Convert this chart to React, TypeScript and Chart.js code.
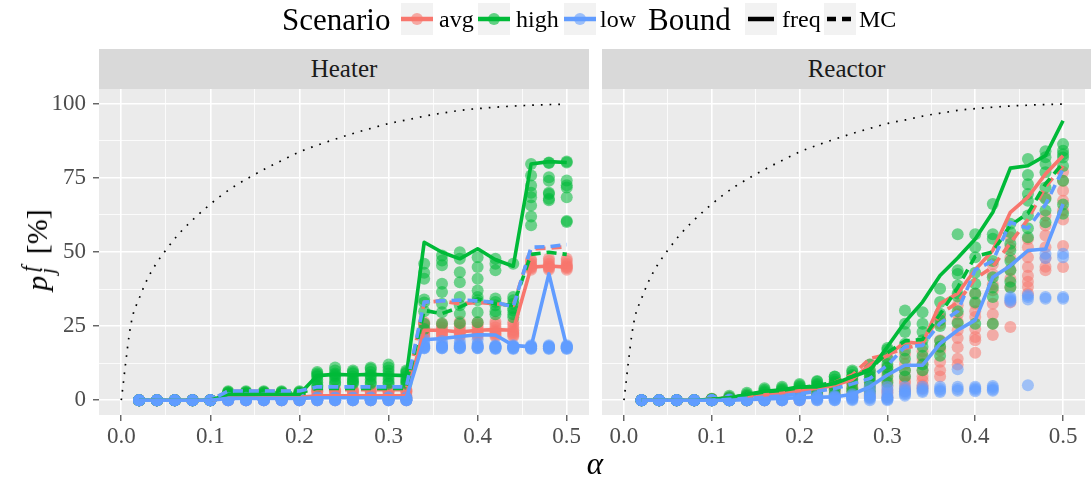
import React, { useEffect, useRef } from "react";
import { Chart, registerables } from "chart.js";

Chart.register(...registerables);

const SERIF = "'Liberation Serif', 'Times New Roman', serif";

const alphas = [0.02, 0.04, 0.06, 0.08, 0.1, 0.12, 0.14, 0.16, 0.18, 0.2, 0.22, 0.24, 0.26, 0.28, 0.3, 0.32, 0.34, 0.36, 0.38, 0.4, 0.42, 0.44, 0.46, 0.48, 0.5];

const xTickValues = [0, 0.05, 0.1, 0.15, 0.2, 0.25, 0.3, 0.35, 0.4, 0.45, 0.5];
const xTickLabels = ["0.0", "", "0.1", "", "0.2", "", "0.3", "", "0.4", "", "0.5"];
const yTickValues = [0, 12.5, 25, 37.5, 50, 62.5, 75, 87.5, 100];
const yTickLabels = ["0", "", "25", "", "50", "", "75", "", "100"];

const panelNames = ["Heater", "Reactor"];
const scenarioNames = ["avg", "high", "low"];
const boundNames = ["freq", "MC"];

// dotted reference curve
const curveAlpha = [0, 0.002, 0.005, 0.009, 0.0127, 0.0199, 0.0281, 0.0382, 0.0502, 0.0637, 0.0779, 0.0936, 0.1093, 0.1266, 0.1446, 0.1629, 0.1817, 0.2003, 0.2206, 0.2404, 0.2603, 0.2801, 0.3008, 0.321, 0.343, 0.3635, 0.3835, 0.405, 0.427, 0.45, 0.475, 0.5];
const curveValue = [0, 5, 12.8, 22.2, 28.3, 34.2, 40.1, 45.6, 50.7, 55.8, 60.2, 64.5, 68.4, 72.1, 75.3, 78.3, 81.1, 83.8, 86.1, 88.1, 90, 91.7, 93.4, 94.6, 96, 97, 97.9, 98.5, 99, 99.4, 99.7, 99.9];

// Heater lines
const heaterFreqAvg = [0, 0, 0, 0, 0, 1, 1, 1, 1, 1, 1.5, 1.5, 1.5, 1.5, 1.5, 1.5, 23.6, 23.6, 23, 23.6, 23.8, 23.6, 44.9, 45.3, 44.9];
const heaterFreqHigh = [0, 0, 0, 0, 0, 1.9, 1.9, 2, 2, 2, 8.3, 8.7, 8.5, 8.7, 8.5, 8.3, 53.3, 49.9, 47.7, 51.1, 47.4, 45.2, 79.7, 80.5, 80.2];
const heaterFreqLow = [0, 0, 0, 0, 0, 0.6, 0.6, 0.6, 0.6, 0.6, 0.8, 0.8, 0.8, 0.8, 0.8, 0.8, 20.4, 20.8, 21.5, 22.1, 22, 18.5, 18, 42.6, 18];
const heaterMCAvg = [0, 0, 0, 0, 0, 3, 3, 3, 3, 3, 3.5, 3.5, 3.5, 3.5, 3.5, 3.5, 33, 33.5, 32.5, 33, 32.5, 32, 51.1, 51.3, 51.8];
const heaterMCHigh = [0, 0, 0, 0, 0, 2.5, 2.5, 2.5, 2.5, 2.5, 4, 4, 4, 4, 4, 4, 30.3, 29.2, 31.4, 34.2, 32.5, 32, 49.2, 49.9, 49.2];
const heaterMCLow = [0, 0, 0, 0, 0, 3.1, 3.1, 3.1, 3.1, 3.1, 4.5, 4.5, 4.5, 4.5, 4.5, 4.5, 33.1, 33.5, 33.8, 33.5, 33, 31.5, 51.6, 51.8, 52.5];

// Reactor lines
const reactorFreqAvg = [0, 0, 0, 0, 0.3, 0.8, 1.3, 1.8, 2.5, 3.2, 4, 5, 7, 12, 15, 19.6, 19.1, 32.6, 36, 44, 50.5, 63.4, 68.5, 76.3, 82.5];
const reactorFreqHigh = [0, 0, 0, 0, 0.3, 0.8, 1.9, 3, 3.5, 4.5, 4.5, 5.6, 7.9, 10, 18, 26.4, 33.1, 42.1, 48, 54.4, 63.4, 78.3, 79.1, 82.5, 94.3];
const reactorFreqLow = [0, 0, 0, 0, 0, 0, 0.2, 0.4, 0.6, 0.8, 1, 1.1, 2, 4.5, 8.5, 11.8, 11.8, 19.1, 23.6, 27, 41.5, 45.4, 50.5, 51, 66.2];
const reactorMCAvg = [0, 0, 0, 0, 0.3, 0.8, 1.5, 2.2, 3, 3.8, 4.5, 6, 8.5, 14, 15.5, 17.5, 19, 29, 33, 41, 45, 53, 61, 72, 79];
const reactorMCHigh = [0, 0, 0, 0, 0.3, 0.8, 1.8, 2.8, 3.3, 4.2, 5, 6, 8, 10.5, 16, 20, 20.5, 29, 38, 48.5, 50, 59, 63, 73, 80];
const reactorMCLow = [0, 0, 0, 0, 0, 0.3, 0.6, 1, 1.5, 2.2, 3, 3.9, 5.5, 7.3, 11.8, 18, 18.5, 26, 30, 44, 47, 60, 58, 66, 78];

// Heater points (one list per alpha)
const heaterPtsAvg = [
  [0, 0, 0, 0, 0, 0, 0, 0], [0, 0, 0, 0, 0, 0, 0, 0], [0, 0, 0, 0, 0, 0, 0, 0], [0, 0, 0, 0, 0, 0, 0, 0], [0, 0, 0, 0, 0, 0, 0, 0],
  [2.5, 2.2, 2, 1.5, 1, 0.5, 0, 0], [2.4, 2.2, 2, 1.5, 1, 0.5, 0, 0], [2.5, 2.2, 2, 1.5, 1, 0.5, 0, 0], [2.4, 2.2, 2, 1.5, 1, 0.5, 0, 0], [2.5, 2.2, 2, 1.5, 1, 0.5, 0, 0],
  [3.5, 3.2, 3, 2.5, 1.5, 1, 0.5, 0], [3.6, 3.2, 3, 2.5, 1.5, 1, 0.5, 0], [3.5, 3.2, 3, 2.5, 1.5, 1, 0.5, 0], [3.6, 3.3, 3, 2.5, 1.5, 1, 0.5, 0], [3.5, 3.2, 3, 2.5, 1.5, 1, 0.5, 0], [3.6, 3.2, 3, 2.5, 1.5, 1, 0.5, 0],
  [26.3, 25.5, 24.5, 23.6, 23, 22.5, 22, 21.5], [26, 25.3, 24.5, 23.6, 23, 22.5, 22, 21.5], [26.5, 25.5, 24.5, 23.6, 23, 22.5, 22, 21.5], [26.3, 25.5, 24.5, 23.6, 23, 22.5, 22, 21.5], [26.5, 25.5, 24.5, 23.6, 23, 22.5, 22, 21.5], [26.3, 25.5, 24.5, 23.6, 23, 22.5, 22, 21.5],
  [47.5, 47, 46, 45.5, 45, 44.9, 44.5, 44], [47.8, 47, 46, 45.5, 45, 44.9, 44.5, 44], [47.7, 47, 46, 45.5, 45, 44.9, 44.5, 44],
];
const heaterPtsHigh = [
  [0, 0, 0, 0, 0, 0, 0, 0], [0, 0, 0, 0, 0, 0, 0, 0], [0, 0, 0, 0, 0, 0, 0, 0], [0, 0, 0, 0, 0, 0, 0, 0], [0, 0, 0, 0, 0, 0, 0, 0],
  [3, 2.8, 2.5, 2.2, 2, 1.8, 1.5, 1], [3, 2.8, 2.5, 2.2, 2, 1.8, 1.5, 1], [3, 2.8, 2.5, 2.2, 2, 1.8, 1.5, 1], [3, 2.8, 2.5, 2.2, 2, 1.8, 1.5, 1], [3, 2.8, 2.5, 2.2, 2, 1.8, 1.5, 1],
  [9.5, 9, 8.5, 8, 7, 6, 5, 4.5], [11, 10, 9, 8.5, 8, 7, 6, 5.5], [10, 9.5, 9, 8, 7, 6.5, 6, 5.5], [11, 10.5, 9.5, 8.5, 8, 7, 6, 5.5], [12, 11, 10, 9, 8, 7, 6, 5.5], [10, 9.5, 9, 8, 7, 6.5, 6, 5.5],
  [46, 43, 41, 34, 33, 30, 25.8, 24], [48.8, 47.1, 45.5, 39.3, 36.5, 32.5, 29.7, 25.8], [49.9, 47.7, 43.2, 39.8, 34.8, 32, 29.2, 26], [48.2, 44.9, 41, 37, 34.8, 33.7, 29.7, 26.3], [47.7, 46, 43.8, 34.3, 33.1, 32, 30, 29], [46, 34.8, 33.7, 32.5, 31, 30.3, 29, 28],
  [79.7, 75.8, 72.4, 70, 68.5, 65.7, 62, 59], [80.2, 80, 75.2, 74, 70, 69.6, 68, 67.5], [80.5, 80.2, 74.1, 72.5, 71.8, 68.5, 60.5, 60.1],
];
const heaterPtsLow = [
  [0, 0, 0, 0, 0, 0, 0, 0], [0, 0, 0, 0, 0, 0, 0, 0], [0, 0, 0, 0, 0, 0, 0, 0], [0, 0, 0, 0, 0, 0, 0, 0], [0, 0, 0, 0, 0, 0, 0, 0],
  [0.8, 0.5, 0.3, 0, 0, 0, 0, 0], [0.8, 0.5, 0.3, 0, 0, 0, 0, 0], [0.8, 0.5, 0.3, 0, 0, 0, 0, 0], [0.8, 0.5, 0.3, 0, 0, 0, 0, 0], [0.8, 0.5, 0.3, 0, 0, 0, 0, 0],
  [1, 0.8, 0.5, 0.3, 0, 0, 0, 0], [1, 0.8, 0.5, 0.3, 0, 0, 0, 0], [1, 0.8, 0.5, 0.3, 0, 0, 0, 0], [1, 0.8, 0.5, 0.3, 0, 0, 0, 0], [1, 0.8, 0.5, 0.3, 0, 0, 0, 0], [1, 0.8, 0.5, 0.3, 0, 0, 0, 0],
  [20.5, 19.5, 18.5, 18, 18, 17.8, 17.5, 17.5], [20, 19, 18.5, 18, 18, 17.8, 17.5, 17.5], [20, 19, 18.5, 18, 18, 17.8, 17.5, 17.5], [20.5, 19, 18.5, 18, 18, 17.8, 17.5, 17.5],
  [18.5, 18.2, 18, 18, 17.8, 17.5, 17.5, 17.3], [18.5, 18.2, 18, 18, 17.8, 17.5, 17.5, 17.3], [18.5, 18.2, 18, 18, 17.8, 17.5, 17.5, 17.3], [18.5, 18.2, 18, 18, 17.8, 17.5, 17.5, 17.3], [18.5, 18.2, 18, 18, 17.8, 17.5, 17.5, 17.3],
];

// Reactor points
const reactorPtsAvg = [
  [0, 0, 0, 0, 0, 0, 0, 0], [0, 0, 0, 0, 0, 0, 0, 0], [0, 0, 0, 0, 0, 0, 0, 0], [0, 0, 0, 0, 0, 0, 0, 0],
  [0.5, 0.3, 0, 0, 0, 0, 0, 0], [1, 0.8, 0.5, 0.3, 0, 0, 0, 0], [1.5, 1, 0.5, 0.3, 0, 0, 0, 0], [2, 1.5, 1, 0.5, 0.3, 0, 0, 0], [3, 2.5, 2, 1.5, 1, 0.5, 0.3, 0],
  [3.5, 3, 2.5, 2, 1.5, 1, 0.5, 0], [4.5, 4, 3, 2.8, 2, 1.5, 1, 0.5], [6, 5.5, 4.5, 4, 3.4, 2.5, 1.5, 1], [7.5, 6.2, 5.5, 4.5, 3.5, 2.5, 1.5, 1], [12, 10, 8, 6.2, 5, 3.9, 2.5, 1.5],
  [14.5, 11.2, 9, 6.7, 5, 3.4, 2.5, 1], [15.6, 12.3, 10, 7.9, 6.5, 5.6, 4, 3], [16.5, 14, 12.3, 10, 8, 6.7, 5, 4], [28.1, 25.8, 20.2, 18, 16.8, 13, 10.1, 8],
  [32, 29, 26.5, 23.6, 21, 17.9, 14, 12], [35.9, 32.5, 30, 28.1, 24, 21.3, 20.2, 16], [45.9, 42.5, 39, 37.1, 32.5, 29, 25.8, 22], [55, 51.6, 48, 44, 41, 38.2, 33, 24.7],
  [54.4, 51.6, 48.2, 44.9, 42, 40, 38.2, 36], [68.4, 62.3, 58.9, 55.6, 51.6, 48, 45, 43.8], [77, 74, 70.7, 67.3, 64, 61, 52, 44.9],
];
const reactorPtsHigh = [
  [0, 0, 0, 0, 0, 0, 0, 0], [0, 0, 0, 0, 0, 0, 0, 0], [0, 0, 0, 0, 0, 0, 0, 0], [0, 0, 0, 0, 0, 0, 0, 0],
  [0.5, 0.3, 0, 0, 0, 0, 0, 0], [1.5, 1, 0.5, 0, 0, 0, 0, 0], [2.5, 2, 1.5, 1, 0.5, 0, 0, 0], [4, 3.5, 3, 2.5, 1.5, 1, 0.5, 0], [4.5, 4, 3.5, 3, 2, 1.5, 1, 0.5],
  [5.5, 5, 4.5, 4, 3, 2, 1.5, 1], [6.5, 6.2, 5.5, 5, 4.5, 3.5, 2.5, 1.5], [8, 7.9, 7, 6.2, 5.5, 4.5, 3.5, 2], [10, 9.5, 8.5, 8, 7, 6, 4, 3], [12, 10.1, 9, 8, 7, 6, 4.5, 3],
  [17.6, 17, 14, 12.2, 11, 10, 8, 6], [30.3, 25.8, 23, 19, 16.8, 14, 10.1, 8], [29.7, 25.8, 23, 20.2, 18, 15, 12, 10.1], [37.6, 33.1, 29.2, 27, 25, 20, 18, 15],
  [56, 43.8, 42.6, 38.7, 36, 35, 30, 26], [56, 51.6, 48.2, 43, 39.3, 36, 33, 25.8], [66.2, 56, 54.5, 47, 41.5, 38, 34.8, 25.8], [59.5, 56.7, 52.8, 50.5, 47, 43.8, 40, 38],
  [81.4, 76, 72.9, 69.6, 67.3, 62.3, 58, 55], [84, 82, 79.7, 76.9, 71.8, 68, 64, 60], [86.4, 84.2, 83, 81.9, 79, 74, 66, 62.9],
];
const reactorPtsLow = [
  [0, 0, 0, 0, 0, 0, 0, 0], [0, 0, 0, 0, 0, 0, 0, 0], [0, 0, 0, 0, 0, 0, 0, 0], [0, 0, 0, 0, 0, 0, 0, 0], [0, 0, 0, 0, 0, 0, 0, 0],
  [0.3, 0, 0, 0, 0, 0, 0, 0], [0.5, 0.3, 0, 0, 0, 0, 0, 0], [0.8, 0.5, 0.3, 0, 0, 0, 0, 0], [1, 0.8, 0.5, 0.3, 0, 0, 0, 0],
  [1.5, 1.1, 0.8, 0.5, 0.3, 0, 0, 0], [1.5, 1.2, 1, 0.8, 0.5, 0.3, 0, 0], [1.5, 1.2, 1, 0.8, 0.5, 0.3, 0, 0], [2, 1.5, 1.2, 1, 0.8, 0.5, 0.3, 0], [4.5, 3, 2, 1.5, 1.1, 0.8, 0.5, 0],
  [4.5, 3.5, 2.5, 1.5, 1, 0.5, 0.3, 0], [4.5, 3.5, 3, 2.5, 2, 1.5], [4.5, 3.8, 3.2, 2.8], [4.5, 3.8, 3.2, 2.8], [10.4, 4.5, 3.8, 3.2], [4.5, 4, 3.5, 3], [4.8, 4.2, 3.6, 3.2],
  [34.8, 34.2, 33.7, 33.2], [35.4, 34.8, 34, 5], [49.4, 48, 34.8, 34.2], [49.4, 48.2, 34.8, 34.2],
];

const COLORS = ["#F8766D", "#00BA38", "#619CFF"];
const POINT_COLORS = ["rgba(248,118,109,0.55)", "rgba(0,186,56,0.55)", "rgba(97,156,255,0.55)"];

function toLine(vals: number[]) {
  return vals.map((v, i) => ({ x: alphas[i], y: v }));
}
function toPoints(vals: number[][]) {
  const out: { x: number; y: number }[] = [];
  vals.forEach((arr, i) => arr.forEach((v) => out.push({ x: alphas[i], y: v })));
  return out;
}

function buildDatasets(freq: number[][], mc: number[][], pts: number[][][]) {
  const ds: any[] = [];
  ds.push({
    label: "bound",
    data: curveAlpha.map((a, i) => ({ x: a, y: curveValue[i] })),
    showLine: true,
    borderColor: "#000000",
    borderWidth: 1.7,
    borderDash: [1.7, 7],
    borderCapStyle: "butt",
    pointRadius: 0,
    cubicInterpolationMode: "monotone",
    order: 0,
  });
  for (let s = 0; s < 3; s++) {
    ds.push({
      label: scenarioNames[s] + " " + boundNames[0],
      data: toLine(freq[s]),
      showLine: true,
      borderColor: COLORS[s],
      borderWidth: 3.6,
      borderJoinStyle: "round",
      pointRadius: 0,
      order: 8 - 2 * s,
    });
    ds.push({
      label: scenarioNames[s] + " " + boundNames[1],
      data: toLine(mc[s]),
      showLine: true,
      borderColor: COLORS[s],
      borderWidth: 3.6,
      borderDash: [10, 6],
      borderCapStyle: "butt",
      borderJoinStyle: "round",
      pointRadius: 0,
      order: 7 - 2 * s,
    });
    ds.push({
      label: scenarioNames[s] + " points",
      data: toPoints(pts[s]),
      showLine: false,
      pointRadius: 6,
      backgroundColor: POINT_COLORS[s],
      pointBackgroundColor: POINT_COLORS[s],
      borderWidth: 0,
      pointBorderWidth: 0,
      borderColor: "rgba(0,0,0,0)",
      order: 14 - s,
    });
  }
  return ds;
}

const bgPlugin = {
  id: "panelBg",
  beforeDraw(chart: any) {
    const { ctx, chartArea } = chart;
    ctx.save();
    ctx.fillStyle = "#EBEBEB";
    ctx.fillRect(chartArea.left, chartArea.top, chartArea.right - chartArea.left, chartArea.bottom - chartArea.top);
    ctx.restore();
  },
};

function makeOptions(showY: boolean, yWidth: number, rightPad: number) {
  return {
    responsive: false,
    maintainAspectRatio: false,
    animation: false,
    devicePixelRatio: 1,
    layout: { padding: { top: 89, right: rightPad, left: 0, bottom: 0 } },
    plugins: { legend: { display: false }, tooltip: { enabled: false } },
    scales: {
      x: {
        type: "linear",
        min: -0.025,
        max: 0.525,
        afterBuildTicks: (s: any) => {
          s.ticks = xTickValues.map((v) => ({ value: v }));
        },
        afterFit: (s: any) => {
          s.height = 63;
        },
        ticks: {
          autoSkip: false,
          maxRotation: 0,
          padding: 2,
          color: "#4D4D4D",
          font: { family: SERIF, size: 23 },
          callback: (_v: any, i: number) => xTickLabels[i],
        },
        grid: {
          color: "#FFFFFF",
          lineWidth: (c: any) => (c.index % 2 === 0 ? 1.6 : 0.8),
          tickLength: 6,
          tickWidth: 1.1,
          tickColor: (c: any) => (c.index % 2 === 0 ? "#333333" : "rgba(0,0,0,0)"),
        },
        border: { display: false },
      },
      y: {
        type: "linear",
        min: -5,
        max: 105,
        afterBuildTicks: (s: any) => {
          s.ticks = yTickValues.map((v) => ({ value: v }));
        },
        afterFit: (s: any) => {
          s.width = yWidth;
        },
        ticks: {
          display: showY,
          autoSkip: false,
          padding: 7,
          color: "#4D4D4D",
          font: { family: SERIF, size: 23 },
          callback: (_v: any, i: number) => yTickLabels[i],
        },
        grid: {
          color: "#FFFFFF",
          lineWidth: (c: any) => (c.index % 2 === 0 ? 1.6 : 0.8),
          drawTicks: showY,
          tickLength: showY ? 6 : 0,
          tickWidth: 1.1,
          tickColor: (c: any) => (c.index % 2 === 0 ? "#333333" : "rgba(0,0,0,0)"),
        },
        border: { display: false },
      },
    },
  };
}

function LegendKey({ left, color, point, dashed }: { left: number; color: string; point?: boolean; dashed?: boolean }) {
  return (
    <svg style={{ position: "absolute", left, top: 3 }} width={32} height={32}>
      <rect x={0} y={0} width={32} height={32} fill="#F2F2F2" />
      {dashed ? (
        <g>
          <line x1={3} y1={16} x2={12} y2={16} stroke={color} strokeWidth={4.5} />
          <line x1={18} y1={16} x2={27} y2={16} stroke={color} strokeWidth={4.5} />
        </g>
      ) : (
        <line x1={point ? 0 : 3} y1={16} x2={point ? 32 : 29} y2={16} stroke={color} strokeWidth={4.5} />
      )}
      {point ? <circle cx={16} cy={16} r={6} fill={color} fillOpacity={0.6} /> : null}
    </svg>
  );
}

function Txt({ left, size, children }: any) {
  return (
    <div
      style={{
        position: "absolute",
        left,
        top: 19,
        transform: "translateY(-50%)",
        fontFamily: SERIF,
        fontSize: size,
        lineHeight: 1,
        whiteSpace: "nowrap",
        color: "#000",
      }}
    >
      {children}
    </div>
  );
}

export default function App() {
  const heaterRef = useRef<HTMLCanvasElement>(null);
  const reactorRef = useRef<HTMLCanvasElement>(null);

  useEffect(() => {
    Chart.defaults.font.family = SERIF;
    const c1 = new Chart(heaterRef.current as HTMLCanvasElement, {
      type: "scatter",
      data: {
        datasets: buildDatasets(
          [heaterFreqAvg, heaterFreqHigh, heaterFreqLow],
          [heaterMCAvg, heaterMCHigh, heaterMCLow],
          [heaterPtsAvg, heaterPtsHigh, heaterPtsLow]
        ),
      },
      options: makeOptions(true, 99, 6) as any,
      plugins: [bgPlugin],
    });
    const c2 = new Chart(reactorRef.current as HTMLCanvasElement, {
      type: "scatter",
      data: {
        datasets: buildDatasets(
          [reactorFreqAvg, reactorFreqHigh, reactorFreqLow],
          [reactorMCAvg, reactorMCHigh, reactorMCLow],
          [reactorPtsAvg, reactorPtsHigh, reactorPtsLow]
        ),
      },
      options: makeOptions(false, 7, 0) as any,
      plugins: [bgPlugin],
    });
    return () => {
      c1.destroy();
      c2.destroy();
    };
  }, []);

  const stripStyle = (left: number, width: number): React.CSSProperties => ({
    position: "absolute",
    left,
    top: 49,
    width,
    height: 40,
    background: "#D9D9D9",
    color: "#1A1A1A",
    fontFamily: SERIF,
    fontSize: 25,
    lineHeight: "40px",
    textAlign: "center",
  });

  return (
    <div style={{ position: "absolute", left: 0, top: 0, width: 1091, height: 478, background: "#FFFFFF", overflow: "hidden" }}>
      <canvas ref={heaterRef} width={595} height={478} style={{ position: "absolute", left: 0, top: 0, width: 595, height: 478 }} />
      <canvas ref={reactorRef} width={496} height={478} style={{ position: "absolute", left: 595, top: 0, width: 496, height: 478 }} />

      <div style={stripStyle(99, 490)}>{panelNames[0]}</div>
      <div style={stripStyle(602, 489)}>{panelNames[1]}</div>

      {/* legend */}
      <Txt left={282} size={31}>Scenario</Txt>
      <LegendKey left={401} color={COLORS[0]} point />
      <Txt left={439} size={24}>{scenarioNames[0]}</Txt>
      <LegendKey left={478} color={COLORS[1]} point />
      <Txt left={516} size={24}>{scenarioNames[1]}</Txt>
      <LegendKey left={564} color={COLORS[2]} point />
      <Txt left={600} size={24}>{scenarioNames[2]}</Txt>
      <Txt left={648} size={31}>Bound</Txt>
      <LegendKey left={745} color="#000000" />
      <Txt left={782} size={24}>{boundNames[0]}</Txt>
      <LegendKey left={824} color="#000000" dashed />
      <Txt left={859} size={24}>{boundNames[1]}</Txt>

      {/* x axis title */}
      <div
        style={{
          position: "absolute",
          left: 595,
          top: 463,
          transform: "translate(-50%, -50%)",
          fontFamily: SERIF,
          fontStyle: "italic",
          fontSize: 31,
          lineHeight: 1,
          color: "#000",
        }}
      >
        α
      </div>

      {/* y axis title */}
      <div
        style={{
          position: "absolute",
          left: 37,
          top: 250,
          transform: "translate(-50%, -50%) rotate(-90deg)",
          fontFamily: SERIF,
          fontSize: 30,
          lineHeight: 1,
          whiteSpace: "nowrap",
          color: "#000",
        }}
      >
        <span style={{ fontStyle: "italic" }}>p</span>
        <span style={{ display: "inline-block", position: "relative", width: 14 }}>
          <span style={{ position: "absolute", left: 4, bottom: 7, fontSize: 21, fontStyle: "italic", lineHeight: 1 }}>f</span>
          <span style={{ position: "absolute", left: 2, top: -10, fontSize: 21, fontStyle: "italic", lineHeight: 1 }}>j</span>
        </span>
        <span> [%]</span>
      </div>
    </div>
  );
}
